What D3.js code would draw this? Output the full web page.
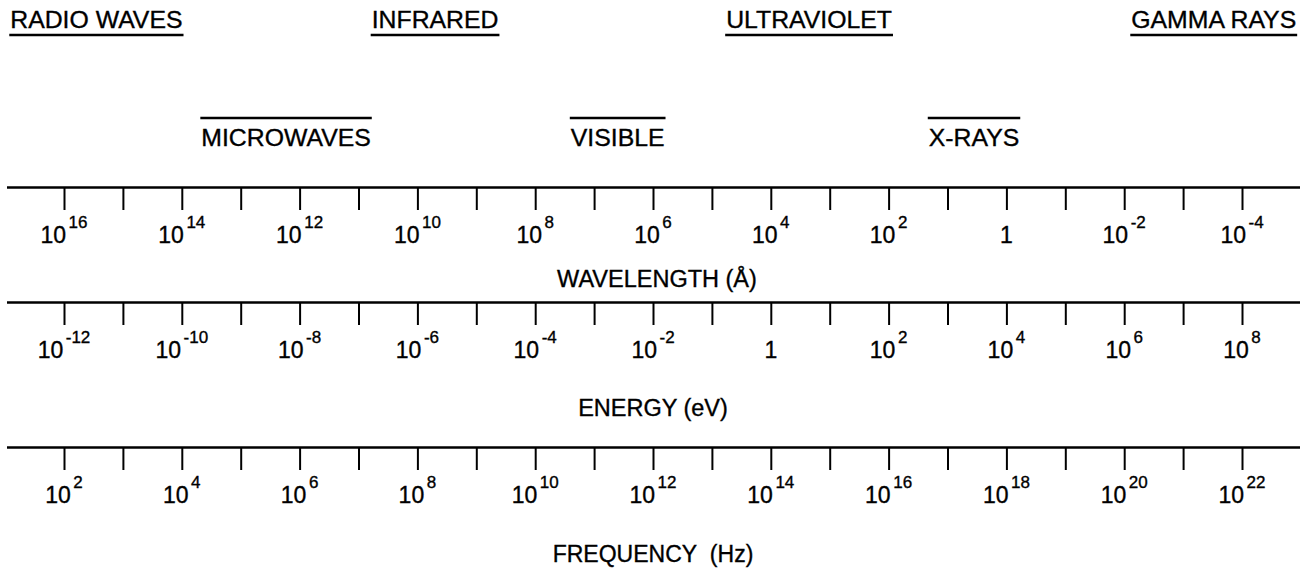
<!DOCTYPE html>
<html>
<head>
<meta charset="utf-8">
<script src="https://cdn.jsdelivr.net/npm/d3@7"></script>
<style>
  html, body { margin: 0; padding: 0; background: #fff; }
  svg { display: block; font-family: "Liberation Sans", Arial, Helvetica, sans-serif; }
  svg text { stroke: #000; stroke-width: 0.35px; }
</style>
</head>
<body>
<svg id="chart" width="1307" height="578"></svg>
<script>
// ---- Data ----
const bandNames = ["RADIO WAVES", "MICROWAVES", "INFRARED", "VISIBLE", "ULTRAVIOLET", "X-RAYS", "GAMMA RAYS"];
// approximate log10(wavelength in Å) at each band label's centre
const bandWavelengthExp = [15.45, 12.23, 9.7, 6.6, 3.35, 0.55, -3.52];

const wavelengthTickExp = [16, 15, 14, 13, 12, 11, 10, 9, 8, 7, 6, 5, 4, 3, 2, 1, 0, -1, -2, -3, -4];
const wavelengthLabelExp = [16, 14, 12, 10, 8, 6, 4, 2, 0, -2, -4];

const energyTickExp = [-12, -11, -10, -9, -8, -7, -6, -5, -4, -3, -2, -1, 0, 1, 2, 3, 4, 5, 6, 7, 8];
const energyLabelExp = [-12, -10, -8, -6, -4, -2, 0, 2, 4, 6, 8];

const frequencyTickExp = [2, 3, 4, 5, 6, 7, 8, 9, 10, 11, 12, 13, 14, 15, 16, 17, 18, 19, 20, 21, 22];
const frequencyLabelExp = [2, 4, 6, 8, 10, 12, 14, 16, 18, 20, 22];

const axisTitles = ["WAVELENGTH (Å)", "ENERGY (eV)", "FREQUENCY\u00a0\u00a0(Hz)"];

// ---- Layout ----
const svg = d3.select("#chart");
const X0 = 64, X1 = 1242;          // first / last tick
const lineStart = 7, lineEnd = 1300;

const scales = [
  d3.scaleLog().domain([1e16, 1e-4]).range([X0, X1]),
  d3.scaleLog().domain([1e-12, 1e8]).range([X0, X1]),
  d3.scaleLog().domain([1e2, 1e22]).range([X0, X1])
];
const tickSets = [wavelengthTickExp, energyTickExp, frequencyTickExp];
const labelSets = [wavelengthLabelExp, energyLabelExp, frequencyLabelExp];
const axisY = [187.5, 302.5, 447.5];
const titleY = [287, 416, 562];
const titleSize = [23.5, 23.5, 23];

scales.forEach((sc, i) => {
  const g = svg.append("g").attr("transform", `translate(0,${axisY[i]})`);
  g.append("line")
    .attr("x1", lineStart).attr("x2", lineEnd)
    .attr("y1", 0).attr("y2", 0)
    .attr("stroke", "#000").attr("stroke-width", 2.5);
  const axis = d3.axisBottom(sc)
    .tickValues(tickSets[i].map(e => Math.pow(10, e)))
    .tickSize(22.5)
    .tickFormat("");
  const ag = g.append("g").call(axis);
  ag.select(".domain").remove();
  ag.selectAll(".tick line").attr("stroke", "#000").attr("stroke-width", 2);

  const lbl = g.selectAll("text.lbl")
    .data(labelSets[i])
    .enter().append("text")
    .attr("class", "lbl")
    .attr("x", e => sc(Math.pow(10, e)))
    .attr("y", 55)
    .attr("text-anchor", "middle")
    .attr("font-size", 23)
    .attr("fill", "#000");
  lbl.each(function(e) {
    const t = d3.select(this);
    if (e === 0) {
      t.text("1");
    } else {
      t.append("tspan").text("10");
      t.append("tspan")
        .attr("font-size", 17)
        .attr("dx", 2.5)
        .attr("dy", -14.5)
        .text(String(e));
    }
  });

  const mid = (X0 + X1) / 2;
  svg.append("text")
    .attr("x", mid + (i === 0 ? 4 : 0))
    .attr("y", titleY[i])
    .attr("text-anchor", "middle")
    .attr("font-size", titleSize[i])
    .attr("fill", "#000")
    .text(axisTitles[i]);
});

// band labels
const wl = scales[0];
const rowBaseline = [28, 145.5];
bandNames.forEach((name, i) => {
  const row = i % 2;
  const cx = wl(Math.pow(10, bandWavelengthExp[i]));
  const t = svg.append("text")
    .attr("x", cx)
    .attr("y", rowBaseline[row])
    .attr("text-anchor", "middle")
    .attr("font-size", 24.8)
    .attr("fill", "#000")
    .text(name);
  const w = t.node().getComputedTextLength();
  const ly = row === 0 ? 35 : 118;
  svg.append("line")
    .attr("x1", cx - w / 2 - 1).attr("x2", cx + w / 2 + 1)
    .attr("y1", ly).attr("y2", ly)
    .attr("stroke", "#000").attr("stroke-width", 2.5);
});
</script>
</body>
</html>
